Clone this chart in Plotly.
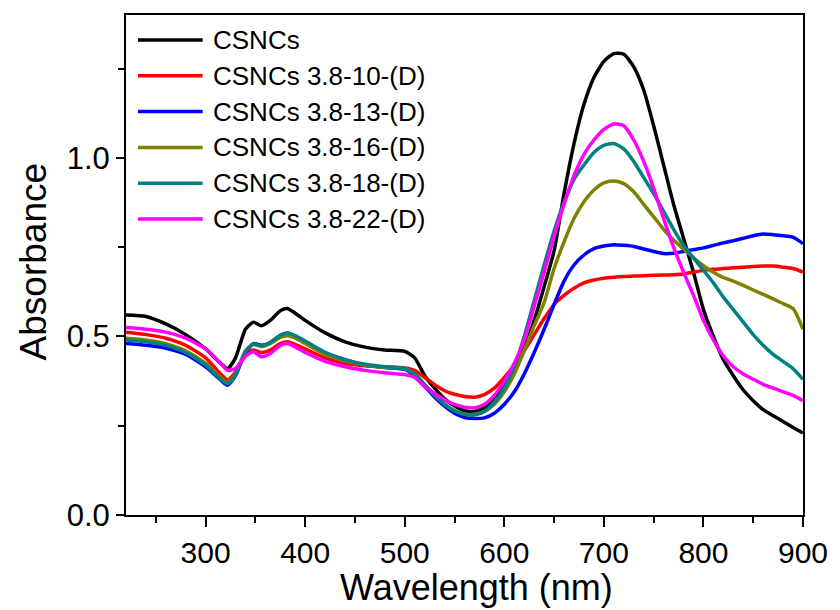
import plotly.graph_objects as go

wavelength = [220, 240, 260, 280, 300, 315, 322, 330, 340, 348,
              356, 365, 375, 382, 390, 400, 420, 440, 460, 480,
              500, 510, 520, 530, 540, 550, 560, 570, 580, 590,
              600, 610, 620, 630, 640, 650, 660, 670, 680, 690,
              700, 710, 720, 730, 740, 750, 760, 770, 780, 790,
              800, 810, 820, 830, 840, 850, 860, 870, 880, 890, 900]

csncs = [0.560, 0.556, 0.535, 0.505, 0.465, 0.425, 0.410, 0.440, 0.520, 0.540,
         0.530, 0.545, 0.572, 0.578, 0.565, 0.545, 0.510, 0.485, 0.470, 0.462,
         0.458, 0.440, 0.390, 0.355, 0.325, 0.305, 0.292, 0.290, 0.300, 0.330,
         0.365, 0.410, 0.465, 0.545, 0.640, 0.740, 0.900, 1.040, 1.150, 1.225,
         1.270, 1.292, 1.290, 1.255, 1.190, 1.090, 0.980, 0.870, 0.775, 0.680,
         0.575, 0.500, 0.435, 0.390, 0.350, 0.320, 0.295, 0.278, 0.262, 0.245, 0.230]

d10 = [0.512, 0.505, 0.495, 0.475, 0.440, 0.395, 0.378, 0.400, 0.450, 0.462,
       0.455, 0.462, 0.480, 0.485, 0.478, 0.465, 0.440, 0.425, 0.418, 0.415,
       0.412, 0.405, 0.385, 0.365, 0.348, 0.338, 0.332, 0.330, 0.337, 0.355,
       0.385, 0.420, 0.460, 0.505, 0.550, 0.590, 0.615, 0.635, 0.650, 0.658,
       0.663, 0.666, 0.668, 0.669, 0.670, 0.671, 0.672, 0.673, 0.675, 0.680,
       0.685, 0.688, 0.690, 0.692, 0.694, 0.696, 0.697, 0.697, 0.694, 0.690, 0.680]

d13 = [0.480, 0.475, 0.467, 0.450, 0.415, 0.378, 0.363, 0.390, 0.455, 0.480,
       0.475, 0.483, 0.503, 0.508, 0.500, 0.485, 0.455, 0.435, 0.420, 0.413,
       0.408, 0.390, 0.360, 0.330, 0.305, 0.285, 0.273, 0.270, 0.272, 0.285,
       0.310, 0.345, 0.395, 0.455, 0.520, 0.590, 0.655, 0.700, 0.728, 0.746,
       0.753, 0.757, 0.755, 0.752, 0.745, 0.738, 0.732, 0.733, 0.738, 0.743,
       0.748, 0.755, 0.762, 0.768, 0.775, 0.782, 0.787, 0.785, 0.782, 0.778, 0.760]

d16 = [0.495, 0.490, 0.480, 0.460, 0.425, 0.385, 0.370, 0.395, 0.460, 0.478,
       0.472, 0.480, 0.497, 0.502, 0.495, 0.480, 0.450, 0.432, 0.420, 0.413,
       0.410, 0.395, 0.365, 0.335, 0.310, 0.292, 0.283, 0.282, 0.290, 0.310,
       0.345, 0.395, 0.460, 0.530, 0.595, 0.690, 0.765, 0.830, 0.877, 0.910,
       0.930, 0.935, 0.928, 0.905, 0.870, 0.835, 0.800, 0.770, 0.745, 0.720,
       0.698, 0.680, 0.665, 0.655, 0.643, 0.630, 0.618, 0.605, 0.592, 0.578, 0.520]

d18 = [0.490, 0.485, 0.475, 0.455, 0.420, 0.380, 0.367, 0.392, 0.458, 0.478,
       0.473, 0.483, 0.503, 0.510, 0.502, 0.487, 0.455, 0.435, 0.422, 0.415,
       0.410, 0.395, 0.365, 0.335, 0.310, 0.292, 0.282, 0.280, 0.290, 0.315,
       0.355, 0.415, 0.500, 0.600, 0.700, 0.795, 0.875, 0.940, 0.980, 1.015,
       1.035, 1.040, 1.025, 0.990, 0.945, 0.900, 0.850, 0.800, 0.755, 0.720,
       0.685, 0.650, 0.610, 0.575, 0.540, 0.505, 0.475, 0.450, 0.430, 0.410, 0.380]

d22 = [0.525, 0.520, 0.512, 0.495, 0.465, 0.425, 0.405, 0.410, 0.445, 0.457,
       0.443, 0.452, 0.475, 0.480, 0.470, 0.455, 0.430, 0.415, 0.405, 0.398,
       0.393, 0.385, 0.360, 0.340, 0.322, 0.310, 0.302, 0.300, 0.310, 0.335,
       0.375, 0.425, 0.490, 0.585, 0.680, 0.780, 0.870, 0.950, 1.010, 1.050,
       1.080, 1.095, 1.090, 1.050, 0.990, 0.915, 0.830, 0.750, 0.680, 0.615,
       0.545, 0.490, 0.445, 0.415, 0.395, 0.380, 0.366, 0.355, 0.345, 0.335, 0.320]

names = ["CSNCs", "CSNCs 3.8-10-(D)", "CSNCs 3.8-13-(D)", "CSNCs 3.8-16-(D)",
         "CSNCs 3.8-18-(D)", "CSNCs 3.8-22-(D)"]
series = [csncs, d10, d13, d16, d18, d22]
colors = ["#000000", "#FF0000", "#0000FF", "#808000", "#008080", "#FF00FF"]

x_ticks = [300, 400, 500, 600, 700, 800, 900]
y_ticks = [0.0, 0.5, 1.0]

FONT = "Liberation Sans, Arial, sans-serif"
W, H = 840, 610
L, R, T, B = 126, 34, 15, 95
pw, ph = W - L - R, H - T - B

fig = go.Figure()
for name, ys, c in zip(names, series, colors):
    fig.add_trace(go.Scatter(x=wavelength, y=ys, mode="lines", name=name,
                             line=dict(color=c, width=3.5, shape="spline", smoothing=0.6),
                             showlegend=False))

# custom legend (long line samples like the original)
row0, row_step = 40, 35.8
line_x0, line_x1, text_x = 138, 203, 211
shapes = []
annotations = []
for i, (name, c) in enumerate(zip(names, colors)):
    py = row0 + i * row_step
    yp = (H - B - py) / ph
    shapes.append(dict(type="line", xref="paper", yref="paper",
                       x0=(line_x0 - L) / pw, x1=(line_x1 - L) / pw, y0=yp, y1=yp,
                       line=dict(color=c, width=3.5)))
    annotations.append(dict(xref="paper", yref="paper", x=(text_x - L) / pw, y=yp,
                            xanchor="left", yanchor="middle", showarrow=False,
                            text=name, font=dict(family=FONT, size=26, color="black")))

annotations.append(dict(xref="paper", yref="paper", x=(478 - L) / pw, y=(H - B - 610) / ph,
                        xanchor="center", yanchor="bottom", showarrow=False,
                        text="Wavelength (nm)", font=dict(family=FONT, size=36, color="black")))
annotations.append(dict(xref="paper", yref="paper", x=(33 - L) / pw, y=(H - B - 262) / ph,
                        xanchor="center", yanchor="middle", showarrow=False, textangle=-90,
                        text="Absorbance", font=dict(family=FONT, size=37, color="black")))

fig.update_layout(
    width=W, height=H,
    margin=dict(l=L, r=R, t=T, b=B, pad=0),
    paper_bgcolor="white", plot_bgcolor="white",
    font=dict(family=FONT, color="black"),
    shapes=shapes, annotations=annotations,
    showlegend=False,
)
fig.update_xaxes(range=[220, 900], tickvals=x_ticks, ticktext=[str(v) for v in x_ticks],
                 showgrid=False, zeroline=False,
                 showline=True, linecolor="black", linewidth=2, mirror=True,
                 ticks="outside", ticklen=10, tickwidth=2, tickcolor="black",
                 tickfont=dict(family=FONT, size=30, color="black"),
                 minor=dict(tickvals=[250, 350, 450, 550, 650, 750, 850], ticks="outside",
                            ticklen=6, tickwidth=2, tickcolor="black", showgrid=False))
fig.update_yaxes(range=[0, 1.4], tickvals=y_ticks, ticktext=[f"{v:.1f}" for v in y_ticks],
                 showgrid=False, zeroline=False,
                 showline=True, linecolor="black", linewidth=2, mirror=True,
                 ticks="outside", ticklen=8, tickwidth=2, tickcolor="black",
                 tickfont=dict(family=FONT, size=31, color="black"),
                 minor=dict(tickvals=[0.25, 0.75, 1.25], ticks="outside",
                            ticklen=6, tickwidth=2, tickcolor="black", showgrid=False))

fig.write_html("out.html")
